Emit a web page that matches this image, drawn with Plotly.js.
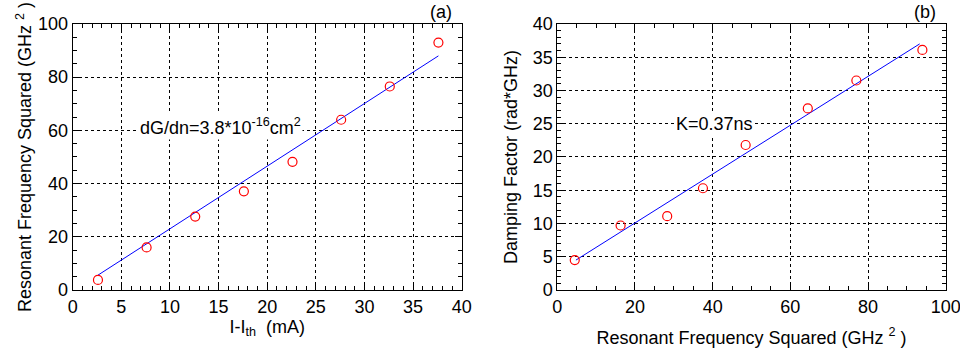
<!DOCTYPE html>
<html>
<head>
<meta charset="utf-8">
<script src="https://cdn.plot.ly/plotly-3.0.1.min.js"></script>
<style>html,body{margin:0;padding:0;background:#fff;}#chart{width:960px;height:352px;}</style>
</head>
<body>
<div id="chart"></div>
<script>
// Panel (a): resonant frequency squared vs I - Ith
const currentA = [2.6, 7.6, 12.6, 17.6, 22.6, 27.6, 32.6, 37.6];
const freqSqA = [3.8, 16.0, 27.6, 37.1, 48.2, 64.0, 76.5, 93.0];
const fitA_x = [2.6, 37.6];
const fitA_y = [5.6, 88.0];

// Panel (b): damping factor vs resonant frequency squared
const freqSqB = [4.5, 16.3, 28.3, 37.5, 48.5, 64.5, 77.0, 94.0];
const dampB = [4.5, 9.7, 11.1, 15.3, 21.8, 27.3, 31.5, 36.1];
const fitB_x = [4.8, 93.3];
const fitB_y = [4.5, 37.0];

const xTicksA = [0, 5, 10, 15, 20, 25, 30, 35, 40];
const yTicksA = [0, 20, 40, 60, 80, 100];
const xTicksB = [0, 20, 40, 60, 80, 100];
const yTicksB = [0, 5, 10, 15, 20, 25, 30, 35, 40];

const FONT = 'Liberation Sans, Arial, sans-serif';

const traces = [
  {x: fitA_x, y: fitA_y, mode: 'lines', line: {color: '#0000ff', width: 1}, xaxis: 'x', yaxis: 'y', hoverinfo: 'skip'},
  {x: currentA, y: freqSqA, mode: 'markers', marker: {symbol: 'circle-open', size: 9, color: '#ff0000', line: {width: 1.2, color: '#ff0000'}}, xaxis: 'x', yaxis: 'y'},
  {x: fitB_x, y: fitB_y, mode: 'lines', line: {color: '#0000ff', width: 1}, xaxis: 'x2', yaxis: 'y2', hoverinfo: 'skip'},
  {x: freqSqB, y: dampB, mode: 'markers', marker: {symbol: 'circle-open', size: 9, color: '#ff0000', line: {width: 1.2, color: '#ff0000'}}, xaxis: 'x2', yaxis: 'y2'}
];

function axis(domain, range, ticks, minorDtick, anchor, title, standoff) {
  return {
    domain: domain, range: range, anchor: anchor,
    tickmode: 'array', tickvals: ticks, ticktext: ticks.map(String),
    ticks: 'inside', ticklen: 7, tickwidth: 1, tickcolor: '#000',
    showline: true, linecolor: '#000', linewidth: 1, mirror: 'allticks',
    showgrid: true, gridcolor: '#000', gridwidth: 1, griddash: '3px,3px',
    zeroline: false, ticklabeloverflow: 'allow',
    minor: {dtick: minorDtick, ticks: 'inside', ticklen: 4, tickcolor: '#000', showgrid: false},
    tickfont: {family: FONT, size: 18, color: '#000'},
    title: {text: title, font: {family: FONT, size: 18, color: '#000'}, standoff: standoff},
    automargin: false,
    fixedrange: true
  };
}

const layout = {
  width: 960, height: 352,
  margin: {l: 0, r: 0, t: 0, b: 0},
  paper_bgcolor: '#fff', plot_bgcolor: '#fff',
  showlegend: false,
  font: {family: FONT, color: '#000'},
  xaxis: axis([0.0757, 0.481], [0, 40], xTicksA, 1, 'y', 'I-I<sub>th</sub>  (mA)', 2),
  yaxis: axis([0.176, 0.932], [0, 100], yTicksA, 5, 'x', 'Resonant Frequency Squared (GHz <sup>2</sup> )', 1),
  xaxis2: axis([0.5805, 0.9851], [0, 100], xTicksB, 5, 'y2', 'Resonant Frequency Squared (GHz <sup>2</sup> )', 15),
  yaxis2: axis([0.176, 0.932], [0, 40], yTicksB, 1, 'x2', 'Damping Factor (rad*GHz)', 10),
  annotations: [
    {xref: 'x', yref: 'y', x: 15.2, y: 61.6, text: 'dG/dn=3.8*10<sup>-16</sup>cm<sup>2</sup>', showarrow: false, bgcolor: '#fff', font: {family: FONT, size: 18, color: '#000'}},
    {xref: 'x2', yref: 'y2', x: 40.5, y: 25, text: 'K=0.37ns', showarrow: false, bgcolor: '#fff', font: {family: FONT, size: 18, color: '#000'}},
    {xref: 'paper', yref: 'paper', x: 441/960, y: 1 - 12/352, xanchor: 'center', yanchor: 'middle', text: '(a)', showarrow: false, font: {family: FONT, size: 18, color: '#000'}},
    {xref: 'paper', yref: 'paper', x: 925/960, y: 1 - 12/352, xanchor: 'center', yanchor: 'middle', text: '(b)', showarrow: false, font: {family: FONT, size: 18, color: '#000'}}
  ]
};

Plotly.newPlot('chart', traces, layout, {staticPlot: true, displayModeBar: false});
</script>
</body>
</html>
